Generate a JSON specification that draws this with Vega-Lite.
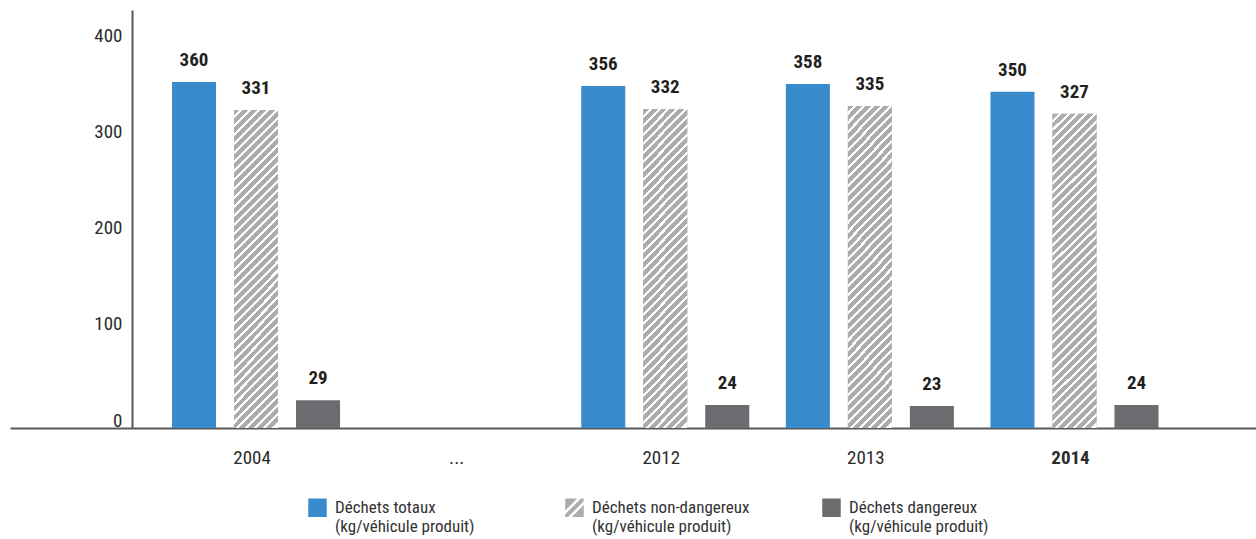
{
  "$schema": "https://vega.github.io/schema/vega-lite/v6.json",
  "width": 1246,
  "height": 418,
  "autosize": {"type": "none"},
  "padding": {"left": 10, "top": 10, "right": 0, "bottom": 111},
  "background": "white",
  "config": {
    "view": {"stroke": null},
    "font": "'Roboto Condensed', 'Liberation Sans Narrow', 'Arial Narrow', 'DejaVu Sans Condensed', sans-serif"
  },
  "data": {
    "values": [
      {"year": "2004", "series": "Déchets totaux|(kg/véhicule produit)", "value": 360},
      {"year": "2004", "series": "Déchets non-dangereux|(kg/véhicule produit)", "value": 331},
      {"year": "2004", "series": "Déchets dangereux|(kg/véhicule produit)", "value": 29},
      {"year": "2012", "series": "Déchets totaux|(kg/véhicule produit)", "value": 356},
      {"year": "2012", "series": "Déchets non-dangereux|(kg/véhicule produit)", "value": 332},
      {"year": "2012", "series": "Déchets dangereux|(kg/véhicule produit)", "value": 24},
      {"year": "2013", "series": "Déchets totaux|(kg/véhicule produit)", "value": 358},
      {"year": "2013", "series": "Déchets non-dangereux|(kg/véhicule produit)", "value": 335},
      {"year": "2013", "series": "Déchets dangereux|(kg/véhicule produit)", "value": 23},
      {"year": "2014", "series": "Déchets totaux|(kg/véhicule produit)", "value": 350},
      {"year": "2014", "series": "Déchets non-dangereux|(kg/véhicule produit)", "value": 327},
      {"year": "2014", "series": "Déchets dangereux|(kg/véhicule produit)", "value": 24}
    ]
  },
  "encoding": {
    "x": {
      "field": "year",
      "type": "nominal",
      "sort": null,
      "scale": {"domain": ["2004", "...", "2012", "2013", "2014"], "paddingInner": 0, "paddingOuter": 0.5447, "align": 0.6447},
      "axis": {
        "title": null,
        "grid": false,
        "ticks": false,
        "domainColor": "#58595B",
        "domainWidth": 2,
        "labelAngle": 0,
        "labelPadding": 20,
        "labelFontSize": 19,
        "labelColor": "#2b2b2b",
        "labelOffset": -4,
        "labelFontWeight": {"condition": {"test": "datum.value == '2014'", "value": "bold"}, "value": "normal"}
      }
    },
    "xOffset": {
      "field": "series",
      "type": "nominal",
      "scale": {
        "domain": ["Déchets totaux|(kg/véhicule produit)", "Déchets non-dangereux|(kg/véhicule produit)", "Déchets dangereux|(kg/véhicule produit)"],
        "paddingInner": 0.29,
        "paddingOuter": 0.295
      }
    },
    "y": {
      "field": "value",
      "type": "quantitative",
      "scale": {"domain": [0, 435], "nice": false},
      "axis": {
        "title": null,
        "grid": false,
        "ticks": false,
        "offset": -122,
        "values": [0, 100, 200, 300, 400],
        "domainColor": "#58595B",
        "domainWidth": 2,
        "labelPadding": 10,
        "labelFontSize": 19,
        "labelColor": "#2b2b2b",
        "labelOffset": -8
      }
    }
  },
  "layer": [
    {
      "mark": {"type": "bar"},
      "encoding": {
        "color": {
          "field": "series",
          "type": "nominal",
          "scale": {
            "domain": ["Déchets totaux|(kg/véhicule produit)", "Déchets non-dangereux|(kg/véhicule produit)", "Déchets dangereux|(kg/véhicule produit)"],
            "range": ["#3A8BCB", "#ABACAE", "#6C6C70"]
          },
          "legend": {
            "title": null,
            "orient": "none",
            "legendX": 298,
            "legendY": 488,
            "direction": "horizontal",
            "columns": 3,
            "gridAlign": "all",
            "columnPadding": 72,
            "padding": 0,
            "symbolType": "square",
            "symbolSize": 342,
            "symbolStrokeWidth": 0,
            "labelFontSize": 17,
            "labelColor": "#333333",
            "labelOffset": 8,
            "labelLimit": 300,
            "labelExpr": "split(datum.label, '|')",
            "encode": {
              "labels": {"update": {"lineHeight": {"value": 19}}},
              "symbols": {"update": {"shape": {"signal": "datum.value == 'Déchets non-dangereux|(kg/véhicule produit)' ? 'M-1,-1L0.3,-1L-1,0.3ZM0.7,-1L1,-1L1,-0.7L-0.7,1L-1,1L-1,0.7ZM1,-0.3L1,1L-0.3,1Z' : 'square'"}}}
            }
          }
        }
      }
    },
    {
      "transform": [{"filter": "datum.series == 'Déchets non-dangereux|(kg/véhicule produit)'"}],
      "mark": {
        "type": "bar",
        "fill": {
          "gradient": "linear",
          "x1": 0, "y1": 0, "x2": 0.1544, "y2": 1.107,
          "stops": [
            {"offset": 0, "color": "#abacae"}, {"offset": 0.0165, "color": "#abacae"}, {"offset": 0.0165, "color": "#fff"}, {"offset": 0.025, "color": "#fff"},
            {"offset": 0.025, "color": "#abacae"}, {"offset": 0.0415, "color": "#abacae"}, {"offset": 0.0415, "color": "#fff"}, {"offset": 0.05, "color": "#fff"},
            {"offset": 0.05, "color": "#abacae"}, {"offset": 0.0665, "color": "#abacae"}, {"offset": 0.0665, "color": "#fff"}, {"offset": 0.075, "color": "#fff"},
            {"offset": 0.075, "color": "#abacae"}, {"offset": 0.0915, "color": "#abacae"}, {"offset": 0.0915, "color": "#fff"}, {"offset": 0.1, "color": "#fff"},
            {"offset": 0.1, "color": "#abacae"}, {"offset": 0.1165, "color": "#abacae"}, {"offset": 0.1165, "color": "#fff"}, {"offset": 0.125, "color": "#fff"},
            {"offset": 0.125, "color": "#abacae"}, {"offset": 0.1415, "color": "#abacae"}, {"offset": 0.1415, "color": "#fff"}, {"offset": 0.15, "color": "#fff"},
            {"offset": 0.15, "color": "#abacae"}, {"offset": 0.1665, "color": "#abacae"}, {"offset": 0.1665, "color": "#fff"}, {"offset": 0.175, "color": "#fff"},
            {"offset": 0.175, "color": "#abacae"}, {"offset": 0.1915, "color": "#abacae"}, {"offset": 0.1915, "color": "#fff"}, {"offset": 0.2, "color": "#fff"},
            {"offset": 0.2, "color": "#abacae"}, {"offset": 0.2165, "color": "#abacae"}, {"offset": 0.2165, "color": "#fff"}, {"offset": 0.225, "color": "#fff"},
            {"offset": 0.225, "color": "#abacae"}, {"offset": 0.2415, "color": "#abacae"}, {"offset": 0.2415, "color": "#fff"}, {"offset": 0.25, "color": "#fff"},
            {"offset": 0.25, "color": "#abacae"}, {"offset": 0.2665, "color": "#abacae"}, {"offset": 0.2665, "color": "#fff"}, {"offset": 0.275, "color": "#fff"},
            {"offset": 0.275, "color": "#abacae"}, {"offset": 0.2915, "color": "#abacae"}, {"offset": 0.2915, "color": "#fff"}, {"offset": 0.3, "color": "#fff"},
            {"offset": 0.3, "color": "#abacae"}, {"offset": 0.3165, "color": "#abacae"}, {"offset": 0.3165, "color": "#fff"}, {"offset": 0.325, "color": "#fff"},
            {"offset": 0.325, "color": "#abacae"}, {"offset": 0.3415, "color": "#abacae"}, {"offset": 0.3415, "color": "#fff"}, {"offset": 0.35, "color": "#fff"},
            {"offset": 0.35, "color": "#abacae"}, {"offset": 0.3665, "color": "#abacae"}, {"offset": 0.3665, "color": "#fff"}, {"offset": 0.375, "color": "#fff"},
            {"offset": 0.375, "color": "#abacae"}, {"offset": 0.3915, "color": "#abacae"}, {"offset": 0.3915, "color": "#fff"}, {"offset": 0.4, "color": "#fff"},
            {"offset": 0.4, "color": "#abacae"}, {"offset": 0.4165, "color": "#abacae"}, {"offset": 0.4165, "color": "#fff"}, {"offset": 0.425, "color": "#fff"},
            {"offset": 0.425, "color": "#abacae"}, {"offset": 0.4415, "color": "#abacae"}, {"offset": 0.4415, "color": "#fff"}, {"offset": 0.45, "color": "#fff"},
            {"offset": 0.45, "color": "#abacae"}, {"offset": 0.4665, "color": "#abacae"}, {"offset": 0.4665, "color": "#fff"}, {"offset": 0.475, "color": "#fff"},
            {"offset": 0.475, "color": "#abacae"}, {"offset": 0.4915, "color": "#abacae"}, {"offset": 0.4915, "color": "#fff"}, {"offset": 0.5, "color": "#fff"},
            {"offset": 0.5, "color": "#abacae"}, {"offset": 0.5165, "color": "#abacae"}, {"offset": 0.5165, "color": "#fff"}, {"offset": 0.525, "color": "#fff"},
            {"offset": 0.525, "color": "#abacae"}, {"offset": 0.5415, "color": "#abacae"}, {"offset": 0.5415, "color": "#fff"}, {"offset": 0.55, "color": "#fff"},
            {"offset": 0.55, "color": "#abacae"}, {"offset": 0.5665, "color": "#abacae"}, {"offset": 0.5665, "color": "#fff"}, {"offset": 0.575, "color": "#fff"},
            {"offset": 0.575, "color": "#abacae"}, {"offset": 0.5915, "color": "#abacae"}, {"offset": 0.5915, "color": "#fff"}, {"offset": 0.6, "color": "#fff"},
            {"offset": 0.6, "color": "#abacae"}, {"offset": 0.6165, "color": "#abacae"}, {"offset": 0.6165, "color": "#fff"}, {"offset": 0.625, "color": "#fff"},
            {"offset": 0.625, "color": "#abacae"}, {"offset": 0.6415, "color": "#abacae"}, {"offset": 0.6415, "color": "#fff"}, {"offset": 0.65, "color": "#fff"},
            {"offset": 0.65, "color": "#abacae"}, {"offset": 0.6665, "color": "#abacae"}, {"offset": 0.6665, "color": "#fff"}, {"offset": 0.675, "color": "#fff"},
            {"offset": 0.675, "color": "#abacae"}, {"offset": 0.6915, "color": "#abacae"}, {"offset": 0.6915, "color": "#fff"}, {"offset": 0.7, "color": "#fff"},
            {"offset": 0.7, "color": "#abacae"}, {"offset": 0.7165, "color": "#abacae"}, {"offset": 0.7165, "color": "#fff"}, {"offset": 0.725, "color": "#fff"},
            {"offset": 0.725, "color": "#abacae"}, {"offset": 0.7415, "color": "#abacae"}, {"offset": 0.7415, "color": "#fff"}, {"offset": 0.75, "color": "#fff"},
            {"offset": 0.75, "color": "#abacae"}, {"offset": 0.7665, "color": "#abacae"}, {"offset": 0.7665, "color": "#fff"}, {"offset": 0.775, "color": "#fff"},
            {"offset": 0.775, "color": "#abacae"}, {"offset": 0.7915, "color": "#abacae"}, {"offset": 0.7915, "color": "#fff"}, {"offset": 0.8, "color": "#fff"},
            {"offset": 0.8, "color": "#abacae"}, {"offset": 0.8165, "color": "#abacae"}, {"offset": 0.8165, "color": "#fff"}, {"offset": 0.825, "color": "#fff"},
            {"offset": 0.825, "color": "#abacae"}, {"offset": 0.8415, "color": "#abacae"}, {"offset": 0.8415, "color": "#fff"}, {"offset": 0.85, "color": "#fff"},
            {"offset": 0.85, "color": "#abacae"}, {"offset": 0.8665, "color": "#abacae"}, {"offset": 0.8665, "color": "#fff"}, {"offset": 0.875, "color": "#fff"},
            {"offset": 0.875, "color": "#abacae"}, {"offset": 0.8915, "color": "#abacae"}, {"offset": 0.8915, "color": "#fff"}, {"offset": 0.9, "color": "#fff"},
            {"offset": 0.9, "color": "#abacae"}, {"offset": 0.9165, "color": "#abacae"}, {"offset": 0.9165, "color": "#fff"}, {"offset": 0.925, "color": "#fff"},
            {"offset": 0.925, "color": "#abacae"}, {"offset": 0.9415, "color": "#abacae"}, {"offset": 0.9415, "color": "#fff"}, {"offset": 0.95, "color": "#fff"},
            {"offset": 0.95, "color": "#abacae"}, {"offset": 0.9665, "color": "#abacae"}, {"offset": 0.9665, "color": "#fff"}, {"offset": 0.975, "color": "#fff"},
            {"offset": 0.975, "color": "#abacae"}, {"offset": 0.9915, "color": "#abacae"}, {"offset": 0.9915, "color": "#fff"}, {"offset": 1, "color": "#fff"}
          ]
        }
      }
    },
    {
      "mark": {"type": "text", "baseline": "alphabetic", "dy": -16, "fontSize": 19, "fontWeight": "bold", "color": "#231F20"},
      "encoding": {"text": {"field": "value", "type": "quantitative"}}
    }
  ]
}
